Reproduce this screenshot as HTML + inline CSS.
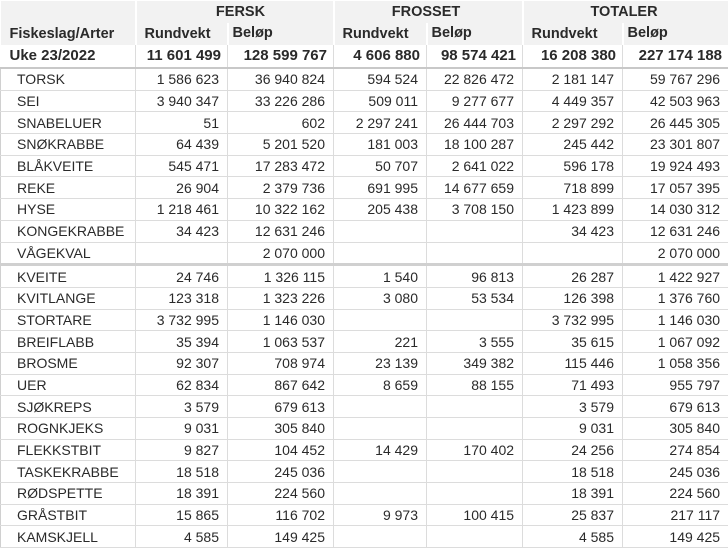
<!DOCTYPE html>
<html><head><meta charset="utf-8"><style>
body{margin:0;background:#fff;width:728px;height:549px;overflow:hidden;font-family:"Liberation Sans",sans-serif;color:#2a2a2a}
table{border-collapse:collapse;table-layout:fixed;width:728px;position:absolute;left:0;top:1px}
td{font-size:14px;padding:0 8px 0 0;text-align:right;white-space:nowrap;overflow:hidden;border:1px solid #dcdcdc;height:20.7px;line-height:20px}
td:first-child{text-align:left;padding-left:16px;border-left:1px solid #d0d0d0}
tr.h td{background:#f2f2f2;border:0;border-left:2px solid #fff;font-weight:bold;height:22px;font-size:14.5px}
tr.h td:first-child{border-left:0;padding-left:9px}
tr.h1 td{text-align:center}
tr.h2 td{text-align:left;padding-left:8px}
tr.t td{font-weight:bold;font-size:15px;height:22px;border-top:0;border-bottom:2px solid #c8c8c8;padding-right:6px}
tr.t td:first-child{padding-left:9px;border-left:0}
tr.gap td{border-bottom:3px solid #d0d0d0}
</style></head><body>
<table>
<colgroup><col style="width:135px"><col style="width:92px"><col style="width:106px"><col style="width:93px"><col style="width:96px"><col style="width:100px"><col style="width:106px"></colgroup>
<tr class="h h1"><td></td><td colspan="2" style="padding-left:20px">FERSK</td><td colspan="2" style="padding-left:4px">FROSSET</td><td colspan="2" style="padding-left:4px">TOTALER</td></tr>
<tr class="h h2"><td>Fiskeslag/Arter</td><td>Rundvekt</td><td style="padding-left:4px;vertical-align:top">Beløp</td><td>Rundvekt</td><td style="padding-left:4px;vertical-align:top">Beløp</td><td>Rundvekt</td><td style="padding-left:4px;vertical-align:top">Beløp</td></tr>
<tr class="t"><td>Uke 23/2022</td><td>11 601 499</td><td>128 599 767</td><td>4 606 880</td><td>98 574 421</td><td>16 208 380</td><td>227 174 188</td></tr>
<tr><td>TORSK</td><td>1 586 623</td><td>36 940 824</td><td>594 524</td><td>22 826 472</td><td>2 181 147</td><td>59 767 296</td></tr>
<tr><td>SEI</td><td>3 940 347</td><td>33 226 286</td><td>509 011</td><td>9 277 677</td><td>4 449 357</td><td>42 503 963</td></tr>
<tr><td>SNABELUER</td><td>51</td><td>602</td><td>2 297 241</td><td>26 444 703</td><td>2 297 292</td><td>26 445 305</td></tr>
<tr><td>SNØKRABBE</td><td>64 439</td><td>5 201 520</td><td>181 003</td><td>18 100 287</td><td>245 442</td><td>23 301 807</td></tr>
<tr><td>BLÅKVEITE</td><td>545 471</td><td>17 283 472</td><td>50 707</td><td>2 641 022</td><td>596 178</td><td>19 924 493</td></tr>
<tr><td>REKE</td><td>26 904</td><td>2 379 736</td><td>691 995</td><td>14 677 659</td><td>718 899</td><td>17 057 395</td></tr>
<tr><td>HYSE</td><td>1 218 461</td><td>10 322 162</td><td>205 438</td><td>3 708 150</td><td>1 423 899</td><td>14 030 312</td></tr>
<tr><td>KONGEKRABBE</td><td>34 423</td><td>12 631 246</td><td></td><td></td><td>34 423</td><td>12 631 246</td></tr>
<tr class="gap"><td>VÅGEKVAL</td><td></td><td>2 070 000</td><td></td><td></td><td></td><td>2 070 000</td></tr>
<tr><td>KVEITE</td><td>24 746</td><td>1 326 115</td><td>1 540</td><td>96 813</td><td>26 287</td><td>1 422 927</td></tr>
<tr><td>KVITLANGE</td><td>123 318</td><td>1 323 226</td><td>3 080</td><td>53 534</td><td>126 398</td><td>1 376 760</td></tr>
<tr><td>STORTARE</td><td>3 732 995</td><td>1 146 030</td><td></td><td></td><td>3 732 995</td><td>1 146 030</td></tr>
<tr><td>BREIFLABB</td><td>35 394</td><td>1 063 537</td><td>221</td><td>3 555</td><td>35 615</td><td>1 067 092</td></tr>
<tr><td>BROSME</td><td>92 307</td><td>708 974</td><td>23 139</td><td>349 382</td><td>115 446</td><td>1 058 356</td></tr>
<tr><td>UER</td><td>62 834</td><td>867 642</td><td>8 659</td><td>88 155</td><td>71 493</td><td>955 797</td></tr>
<tr><td>SJØKREPS</td><td>3 579</td><td>679 613</td><td></td><td></td><td>3 579</td><td>679 613</td></tr>
<tr><td>ROGNKJEKS</td><td>9 031</td><td>305 840</td><td></td><td></td><td>9 031</td><td>305 840</td></tr>
<tr><td>FLEKKSTBIT</td><td>9 827</td><td>104 452</td><td>14 429</td><td>170 402</td><td>24 256</td><td>274 854</td></tr>
<tr><td>TASKEKRABBE</td><td>18 518</td><td>245 036</td><td></td><td></td><td>18 518</td><td>245 036</td></tr>
<tr><td>RØDSPETTE</td><td>18 391</td><td>224 560</td><td></td><td></td><td>18 391</td><td>224 560</td></tr>
<tr><td>GRÅSTBIT</td><td>15 865</td><td>116 702</td><td>9 973</td><td>100 415</td><td>25 837</td><td>217 117</td></tr>
<tr><td>KAMSKJELL</td><td>4 585</td><td>149 425</td><td></td><td></td><td>4 585</td><td>149 425</td></tr>
</table>
</body></html>
